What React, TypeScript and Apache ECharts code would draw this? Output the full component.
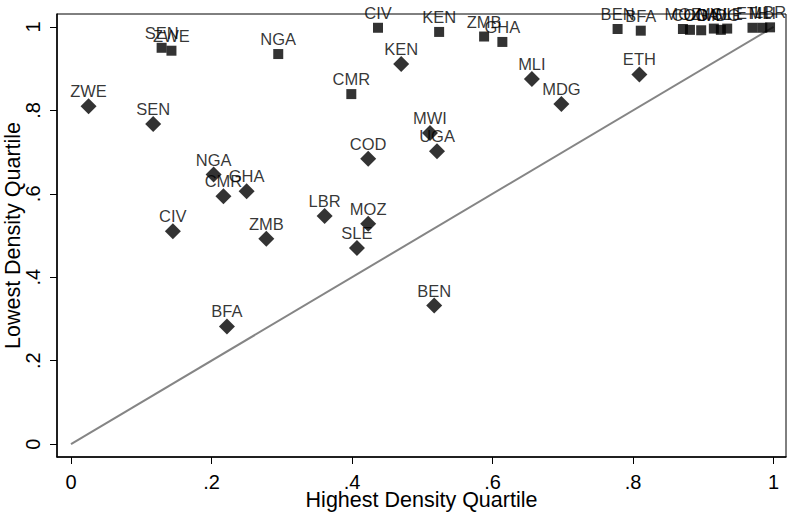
import React, { useEffect, useRef } from "react";
import * as echarts from "echarts";

// Squares series
const squareCodes = ["SEN", "ZWE", "NGA", "CMR", "CIV", "KEN", "ZMB", "GHA", "BEN", "BFA", "MOZ", "COD", "UGA", "MWI", "MDG", "SLE", "ETH", "MLI", "LBR"];
const squareHigh = [0.129, 0.143, 0.295, 0.399, 0.437, 0.524, 0.588, 0.614, 0.778, 0.811, 0.871, 0.881, 0.897, 0.915, 0.925, 0.934, 0.970, 0.984, 0.995];
const squareLow = [0.950, 0.943, 0.935, 0.839, 0.998, 0.988, 0.977, 0.964, 0.995, 0.991, 0.995, 0.993, 0.992, 0.996, 0.993, 0.996, 0.998, 0.998, 0.999];

// Diamonds series
const diamondCodes = ["ZWE", "SEN", "NGA", "CMR", "GHA", "CIV", "ZMB", "BFA", "LBR", "MOZ", "SLE", "COD", "KEN", "MWI", "UGA", "BEN", "MLI", "MDG", "ETH"];
const diamondHigh = [0.025, 0.117, 0.203, 0.217, 0.250, 0.145, 0.278, 0.222, 0.361, 0.423, 0.407, 0.423, 0.470, 0.511, 0.521, 0.517, 0.656, 0.698, 0.809];
const diamondLow = [0.810, 0.767, 0.646, 0.594, 0.606, 0.510, 0.492, 0.282, 0.547, 0.528, 0.470, 0.684, 0.911, 0.746, 0.702, 0.332, 0.875, 0.815, 0.886];

const tickValues = [0, 0.2, 0.4, 0.6, 0.8, 1];
const tickLabels = ["0", ".2", ".4", ".6", ".8", "1"];
const diagonal = [[0, 0], [1, 1]];

const FONT = "'Liberation Sans', Arial, Helvetica, sans-serif";

function fmt(v: number): string {
  const i = tickValues.findIndex((t) => Math.abs(t - v) < 1e-6);
  return i >= 0 ? tickLabels[i] : "";
}

export default function App() {
  const ref = useRef<HTMLDivElement>(null);
  useEffect(() => {
    if (!ref.current) return;
    const chart = echarts.init(ref.current, null, { renderer: "svg" });
    const labelStyle = {
      show: true,
      position: "inside" as const,
      offset: [0, -15],
      color: "#000",
      textBorderWidth: 0,
      fontFamily: FONT,
      fontSize: 16.5,
      formatter: (p: any) => p.data[2],
    };
    chart.setOption({
      animation: false,
      backgroundColor: "#fff",
      grid: {
        left: 57,
        right: 1,
        top: 14,
        bottom: 56,
        outerBoundsMode: "none",
        containLabel: false,
        show: true,
        borderColor: "#000",
        borderWidth: 1,
        backgroundColor: "transparent",
      },
      xAxis: {
        type: "value",
        min: -0.0199,
        max: 1.0177,
        name: "Highest Density Quartile",
        nameLocation: "middle",
        nameGap: 32,
        nameMoveOverlap: false,
        nameTextStyle: { fontFamily: FONT, fontSize: 21.5, color: "#000" },
        axisLine: { show: true, onZero: false, lineStyle: { color: "#000", width: 1.5 } },
        axisTick: { show: true, customValues: tickValues, length: 7, lineStyle: { color: "#000", width: 1 } },
        axisLabel: { customValues: tickValues, formatter: fmt, fontFamily: FONT, fontSize: 20, color: "#000", margin: 15 },
        splitLine: { show: false },
      },
      yAxis: {
        type: "value",
        min: -0.031,
        max: 1.031,
        name: "Lowest Density Quartile",
        nameLocation: "middle",
        nameGap: 33,
        nameMoveOverlap: false,
        nameTextStyle: { fontFamily: FONT, fontSize: 21.5, color: "#000" },
        axisLine: { show: true, onZero: false, lineStyle: { color: "#000", width: 1.5 } },
        axisTick: { show: true, customValues: tickValues, length: 7, lineStyle: { color: "#000", width: 1 } },
        axisLabel: { customValues: tickValues, formatter: fmt, rotate: 90, fontFamily: FONT, fontSize: 20, color: "#000", margin: 14 },
        splitLine: { show: false },
      },
      series: [
        {
          type: "line",
          data: diagonal,
          symbol: "none",
          silent: true,
          lineStyle: { color: "#858585", width: 2 },
          z: 1,
        },
        {
          type: "scatter",
          data: squareHigh.map((x, i) => [x, squareLow[i], squareCodes[i]]),
          symbol: "rect",
          symbolSize: 10,
          itemStyle: { color: "#000" },
          label: labelStyle,
          z: 3,
        },
        {
          type: "scatter",
          data: diamondHigh.map((x, i) => [x, diamondLow[i], diamondCodes[i]]),
          symbol: "diamond",
          symbolSize: 16,
          itemStyle: { color: "#000" },
          label: labelStyle,
          z: 3,
        },
      ],
    });
    return () => chart.dispose();
  }, []);
  return (
    <div
      ref={ref}
      style={{ position: "absolute", left: 0, top: 0, width: 787, height: 513 }}
    />
  );
}
